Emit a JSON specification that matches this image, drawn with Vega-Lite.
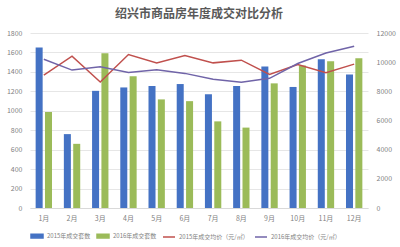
{
  "$schema": "https://vega.github.io/schema/vega-lite/v6.json",
  "width": 400,
  "height": 247,
  "autosize": {"type": "fit", "contains": "padding"},
  "padding": {"left": 6, "right": 4, "top": 8, "bottom": 6},
  "background": "white",
  "title": {"text": "绍兴市商品房年度成交对比分析", "font": "Noto Sans CJK SC", "fontSize": 12, "fontWeight": "bold", "color": "#595959", "offset": 8},
  "config": {
    "view": {"stroke": null},
    "font": "Noto Sans CJK SC",
    "axis": {"labelFont": "Noto Sans CJK SC", "labelColor": "#7f7f7f", "labelFontSize": 7, "titleColor": "#595959"}
  },
  "data": {"values": [
    {"m": "1月", "s": "2015年成交套数", "v": 1650}, {"m": "2月", "s": "2015年成交套数", "v": 760}, {"m": "3月", "s": "2015年成交套数", "v": 1205}, {"m": "4月", "s": "2015年成交套数", "v": 1240}, {"m": "5月", "s": "2015年成交套数", "v": 1255}, {"m": "6月", "s": "2015年成交套数", "v": 1275}, {"m": "7月", "s": "2015年成交套数", "v": 1170}, {"m": "8月", "s": "2015年成交套数", "v": 1255}, {"m": "9月", "s": "2015年成交套数", "v": 1456}, {"m": "10月", "s": "2015年成交套数", "v": 1245}, {"m": "11月", "s": "2015年成交套数", "v": 1530}, {"m": "12月", "s": "2015年成交套数", "v": 1374},
    {"m": "1月", "s": "2016年成交套数", "v": 987}, {"m": "2月", "s": "2016年成交套数", "v": 660}, {"m": "3月", "s": "2016年成交套数", "v": 1593}, {"m": "4月", "s": "2016年成交套数", "v": 1355}, {"m": "5月", "s": "2016年成交套数", "v": 1117}, {"m": "6月", "s": "2016年成交套数", "v": 1099}, {"m": "7月", "s": "2016年成交套数", "v": 891}, {"m": "8月", "s": "2016年成交套数", "v": 827}, {"m": "9月", "s": "2016年成交套数", "v": 1282}, {"m": "10月", "s": "2016年成交套数", "v": 1466}, {"m": "11月", "s": "2016年成交套数", "v": 1510}, {"m": "12月", "s": "2016年成交套数", "v": 1541},
    {"m": "1月", "s": "2015年成交均价（元/㎡）", "v": 9116}, {"m": "2月", "s": "2015年成交均价（元/㎡）", "v": 10408}, {"m": "3月", "s": "2015年成交均价（元/㎡）", "v": 8639}, {"m": "4月", "s": "2015年成交均价（元/㎡）", "v": 10524}, {"m": "5月", "s": "2015年成交均价（元/㎡）", "v": 9952}, {"m": "6月", "s": "2015年成交均价（元/㎡）", "v": 10456}, {"m": "7月", "s": "2015年成交均价（元/㎡）", "v": 9952}, {"m": "8月", "s": "2015年成交均价（元/㎡）", "v": 10136}, {"m": "9月", "s": "2015年成交均价（元/㎡）", "v": 9163}, {"m": "10月", "s": "2015年成交均价（元/㎡）", "v": 9843}, {"m": "11月", "s": "2015年成交均价（元/㎡）", "v": 9272}, {"m": "12月", "s": "2015年成交均价（元/㎡）", "v": 9864},
    {"m": "1月", "s": "2016年成交均价（元/㎡）", "v": 10204}, {"m": "2月", "s": "2016年成交均价（元/㎡）", "v": 9456}, {"m": "3月", "s": "2016年成交均价（元/㎡）", "v": 9680}, {"m": "4月", "s": "2016年成交均价（元/㎡）", "v": 9300}, {"m": "5月", "s": "2016年成交均价（元/㎡）", "v": 9476}, {"m": "6月", "s": "2016年成交均价（元/㎡）", "v": 9231}, {"m": "7月", "s": "2016年成交均价（元/㎡）", "v": 8823}, {"m": "8月", "s": "2016年成交均价（元/㎡）", "v": 8619}, {"m": "9月", "s": "2016年成交均价（元/㎡）", "v": 8891}, {"m": "10月", "s": "2016年成交均价（元/㎡）", "v": 9911}, {"m": "11月", "s": "2016年成交均价（元/㎡）", "v": 10633}, {"m": "12月", "s": "2016年成交均价（元/㎡）", "v": 11088}
  ]},
  "encoding": {
    "x": {"field": "m", "type": "nominal", "sort": null, "title": null,
      "scale": {"paddingInner": 0.42, "paddingOuter": 0.2},
      "axis": {"labelAngle": 0, "domainColor": "#d9d9d9", "ticks": false, "labelPadding": 6}},
    "color": {"field": "s", "type": "nominal", "title": null,
      "scale": {"domain": ["2015年成交套数", "2016年成交套数", "2015年成交均价（元/㎡）", "2016年成交均价（元/㎡）"], "range": ["#4472C4", "#9BBB59", "#C0504D", "#7064A8"]},
      "legend": {"orient": "bottom", "direction": "horizontal", "labelFontSize": 6, "labelColor": "#7f7f7f", "columnPadding": 3, "symbolSize": 144, "labelOffset": 3, "offset": 8,
        "symbolType": "M-1,-0.3H1V0.3H-1Z",
        "encode": {"symbols": {"update": {
          "shape": {"signal": "test(/均价/, datum.value) ? 'M-1,0H1' : 'M-1,-0.3H1V0.3H-1Z'"},
          "stroke": {"signal": "datum.value == '2015年成交均价（元/㎡）' ? '#C0504D' : datum.value == '2016年成交均价（元/㎡）' ? '#7064A8' : null"},
          "strokeWidth": {"value": 1.5}
        }}}}
    }
  },
  "layer": [
    {
      "transform": [{"filter": "test(/套数/, datum.s)"}],
      "mark": {"type": "bar"},
      "encoding": {
        "xOffset": {"field": "s", "type": "nominal", "scale": {"paddingInner": 0.25}},
        "y": {"field": "v", "type": "quantitative", "title": null,
          "scale": {"domain": [0, 1800]},
          "axis": {"values": [0, 200, 400, 600, 800, 1000, 1200, 1400, 1600, 1800], "format": "d", "domain": false, "ticks": false, "gridColor": "#e6e6e6", "labelPadding": 8}}
      }
    },
    {
      "transform": [{"filter": "test(/均价/, datum.s)"}],
      "mark": {"type": "line", "strokeWidth": 1.5},
      "encoding": {
        "y": {"field": "v", "type": "quantitative", "title": null,
          "scale": {"domain": [0, 12000]},
          "axis": {"orient": "right", "values": [0, 2000, 4000, 6000, 8000, 10000, 12000], "format": "d", "domain": false, "ticks": false, "grid": false, "labelPadding": 8}}
      }
    }
  ],
  "resolve": {"scale": {"y": "independent"}}
}
